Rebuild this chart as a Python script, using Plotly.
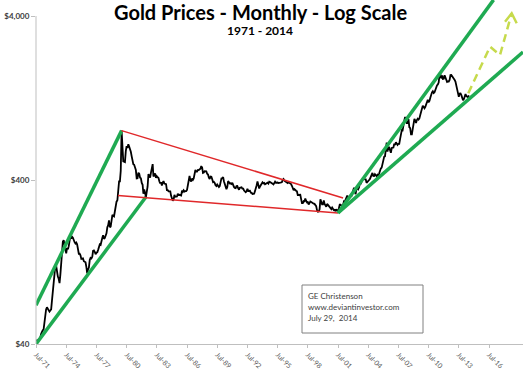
import plotly.graph_objects as go
import pandas as pd
import math

# ---------------- data (monthly gold price, USD/oz, Jul-1971 .. Jul-2014) -------------
p1970s = [
    41, 42, 42, 42.5, 43, 43.5,                                   # 1971 Jul-Dec
    46, 48, 48.5, 49, 54, 62, 65, 67, 65, 64.5, 63, 64,           # 1972
    65, 74, 84, 91, 102, 120, 120, 106, 103, 100, 94, 106,        # 1973
    129, 150, 168, 172, 163, 154, 143, 154, 151, 158, 181, 183,   # 1974
    176, 180, 178, 170, 167, 164, 166, 162, 144, 142, 142, 139,   # 1975
    132, 132, 133, 128, 127, 126, 118, 108, 114, 117, 130, 134,   # 1976
    133, 136, 148, 149, 146, 141, 144, 145, 150, 158, 162, 161,   # 1977
    174, 178, 184, 175, 177, 183, 189, 206, 212, 227, 206, 208,   # 1978
    227, 245, 242, 240, 257, 279, 295, 301, 355, 392, 392, 456,   # 1979
]
p1980s = [
    800, 640, 520, 517, 514, 600, 644, 627, 660, 640, 623, 594,   # 1980
    557, 500, 499, 495, 480, 460, 409, 410, 443, 437, 413, 410,   # 1981
    384, 374, 330, 350, 334, 315, 339, 364, 435, 422, 414, 444,   # 1982
    481, 500, 420, 432, 438, 413, 422, 416, 411, 393, 382, 388,   # 1983
    370, 386, 394, 381, 377, 377, 347, 347, 341, 340, 341, 320,   # 1984
    303, 299, 304, 325, 316, 317, 317, 330, 324, 325, 325, 322,   # 1985
    345, 339, 346, 340, 342, 342, 348, 376, 418, 423, 398, 391,   # 1986
    408, 401, 409, 438, 460, 450, 450, 461, 460, 465, 468, 486,   # 1987
    477, 442, 444, 452, 451, 451, 437, 432, 413, 406, 420, 419,   # 1988
    404, 388, 390, 384, 371, 367, 375, 365, 362, 367, 393, 409,   # 1989
]
p1990s = [
    410, 417, 393, 374, 369, 352, 362, 394, 388, 381, 382, 378,   # 1990
    384, 364, 363, 358, 357, 367, 368, 356, 349, 359, 360, 361,   # 1991
    354, 354, 345, 338, 337, 341, 353, 343, 345, 344, 335, 334,   # 1992
    329, 330, 330, 342, 367, 372, 392, 379, 355, 365, 374, 383,   # 1993
    387, 382, 384, 377, 381, 385, 385, 380, 391, 389, 384, 379,   # 1994
    379, 376, 382, 391, 385, 387, 386, 383, 383, 383, 386, 387,   # 1995
    400, 405, 396, 393, 392, 385, 383, 387, 383, 381, 378, 369,   # 1996
    355, 347, 352, 344, 344, 341, 324, 324, 323, 325, 306, 289,   # 1997
    289, 297, 296, 308, 299, 292, 293, 284, 289, 296, 294, 291,   # 1998
    287, 287, 286, 282, 277, 261, 256, 257, 265, 305, 293, 284,   # 1999
]
p2000s = [
    284, 300, 286, 280, 275, 286, 282, 274, 274, 270, 266, 272,   # 2000
    266, 262, 263, 258, 265, 262, 256, 268, 283, 283, 276, 275,   # 2001
    282, 296, 294, 303, 314, 321, 313, 310, 319, 317, 319, 333,   # 2002
    357, 359, 340, 328, 355, 356, 351, 360, 379, 379, 389, 407,   # 2003
    414, 405, 406, 404, 384, 392, 398, 400, 406, 420, 439, 442,   # 2004
    424, 423, 434, 429, 422, 430, 424, 438, 457, 470, 476, 510,   # 2005
    549, 555, 557, 610, 676, 596, 633, 632, 598, 586, 627, 629,   # 2006
    631, 665, 655, 680, 668, 655, 665, 665, 712, 754, 806, 803,   # 2007
    889, 922, 968, 909, 889, 889, 939, 839, 829, 760, 760, 816,   # 2008
    858, 943, 925, 890, 928, 945, 934, 949, 996, 1043, 1127, 1135,  # 2009
]
p2010s = [
    1118, 1095, 1113, 1148, 1205, 1233, 1193, 1215, 1271, 1342, 1370, 1391,  # 2010
    1356, 1372, 1424, 1473, 1510, 1529, 1572, 1756, 1772, 1665, 1739, 1652,  # 2011
    1656, 1742, 1673, 1650, 1585, 1596, 1594, 1630, 1745, 1747, 1721, 1688,  # 2012
    1670, 1627, 1593, 1487, 1414, 1343, 1286, 1347, 1349, 1316, 1275, 1225,  # 2013
    1244, 1300, 1336, 1299, 1287, 1279, 1311,                                # 2014
]
prices = p1970s + p1980s + p1990s + p2000s + p2010s
dates = pd.date_range("1971-07-01", periods=len(prices), freq="MS")

tick_years = list(range(1971, 2017, 3))
tick_dates = [f"{y}-07-01" for y in tick_years]
tick_text = [f"Jul-{y % 100:02d}" for y in tick_years]

y_tick_vals = [40, 400, 4000]
y_tick_text = ["$40", "$400", "$4,000"]

# hand-drawn trend lines (date, price) endpoints
green_left_upper = (["1971-07-01", "1980-01-01"], [69, 800])
green_left_lower = (["1971-07-01", "1982-06-01"], [40, 315])
red_upper = (["1980-01-01", "2002-01-01"], [800, 311])
red_lower = (["1979-08-23", "2001-07-01"], [322, 252])
green_right_upper = (["2001-07-01", "2016-12-12"], [252, 5016])
green_right_lower = (["2001-07-01", "2019-11-16"], [252, 2412])
arrow_path = (["2014-06-10", "2016-08-06", "2017-08-04", "2018-10-02"], [1352, 2600, 2313, 4156])
arrow_head = (["2018-02-02", "2018-10-02", "2019-04-01"], [3692, 4156, 3612])

# ---------------- figure ----------------
GREEN = "#1faa52"
RED = "#e0282a"
ARROW = "#c6da4c"
AXIS = "#bfbfbf"
FONT = "Lato"

fig = go.Figure()
fig.add_trace(go.Scatter(x=dates, y=prices, mode="lines",
                         line=dict(color="black", width=1.8), hoverinfo="skip"))

for (xs, ys), col, w in [
    (green_left_upper, GREEN, 3.5),
    (green_left_lower, GREEN, 3.5),
    (red_upper, RED, 1.5),
    (red_lower, RED, 1.5),
    (green_right_upper, GREEN, 3.5),
    (green_right_lower, GREEN, 3.5),
]:
    fig.add_trace(go.Scatter(x=xs, y=ys, mode="lines", line=dict(color=col, width=w)))

fig.add_trace(go.Scatter(x=arrow_path[0], y=arrow_path[1], mode="lines",
                         line=dict(color=ARROW, width=2.5, dash="8px,5px")))
fig.add_trace(go.Scatter(x=arrow_head[0], y=arrow_head[1], mode="lines",
                         line=dict(color=ARROW, width=2.5)))

ymin = math.log10(40)
ymax = ymin + 344 / 164

fig.update_layout(
    width=523, height=369,
    margin=dict(l=36, r=0, t=0, b=25),
    paper_bgcolor="white", plot_bgcolor="white",
    showlegend=False,
    font=dict(family=FONT, color="#404040"),
    xaxis=dict(type="date", range=["1971-07-01", "2019-11-16"],
               tickvals=tick_dates, ticktext=tick_text, tickangle=45,
               ticks="outside", ticklen=3, tickcolor=AXIS,
               showline=True, linecolor=AXIS, linewidth=1,
               showgrid=False, zeroline=False, automargin=False,
               tickfont=dict(size=7, color="#595959")),
    yaxis=dict(type="log", range=[ymin, ymax],
               tickvals=y_tick_vals, ticktext=y_tick_text,
               ticks="outside", ticklen=4, tickcolor=AXIS,
               showline=False, showgrid=False, zeroline=False, automargin=False,
               tickfont=dict(size=8, color="#404040", weight="bold")),
    shapes=[
        dict(type="line", xref="paper", yref="y", x0=0, x1=0, y0=40, y1=4000,
             line=dict(color=AXIS, width=1)),
        dict(type="rect", xref="paper", yref="paper",
             x0=(302 - 36) / 487, x1=(423 - 36) / 487,
             y0=1 - 333 / 344, y1=1 - 285 / 344,
             line=dict(color="#808080", width=1), fillcolor="white", layer="above"),
    ],
    annotations=[
        dict(text="<b>Gold Prices - Monthly - Log Scale</b>", xref="paper", yref="paper",
             x=(260 - 36) / 487, y=1 - 12 / 344, showarrow=False,
             font=dict(size=20, color="black", family=FONT), xanchor="center", yanchor="middle"),
        dict(text="<b>1971 - 2014</b>", xref="paper", yref="paper",
             x=(260 - 36) / 487, y=1 - 31 / 344, showarrow=False,
             font=dict(size=12, color="black", family=FONT), xanchor="center", yanchor="middle"),
    ] + [
        dict(text=t, xref="paper", yref="paper", x=(306 - 36) / 487, y=1 - yy / 344,
             showarrow=False, xanchor="left", yanchor="middle",
             font=dict(size=8, color="#404040", family=FONT))
        for t, yy in [("GE Christenson", 296), ("www.deviantinvestor.com", 307), ("July 29,  2014", 318)]
    ],
)

fig.write_html("out.html", config={"displayModeBar": False},
               post_script="document.body.style.margin='0px';document.body.style.overflow='hidden';")
